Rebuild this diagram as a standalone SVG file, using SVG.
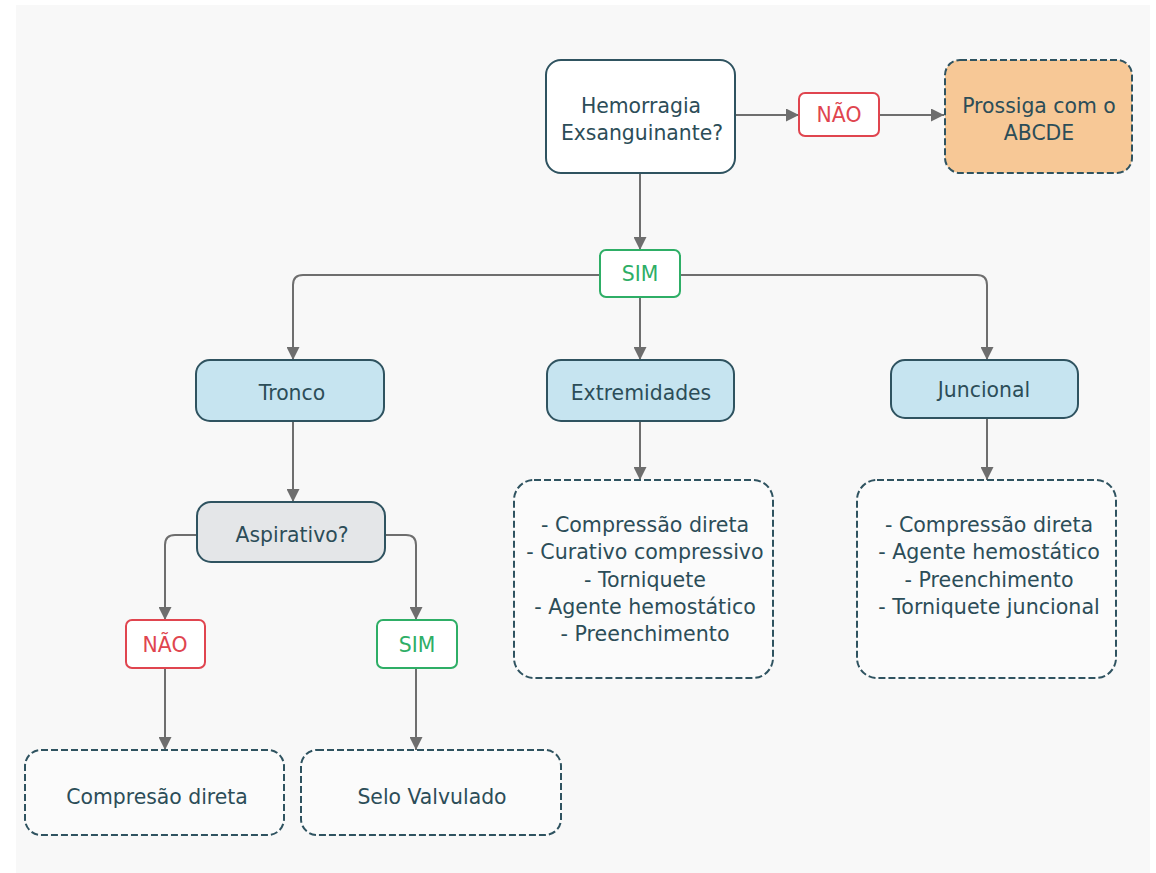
<svg xmlns="http://www.w3.org/2000/svg" width="1156" height="873" viewBox="0 0 1156 873">
<defs>
<marker id="arr" viewBox="0 0 10 10" refX="10" refY="5" markerWidth="13" markerHeight="13" markerUnits="userSpaceOnUse" orient="auto">
<path d="M0,0 L10,5 L0,10 z" fill="#6e6e6e"/>
</marker>
</defs>
<style>
text{font-family:"DejaVu Sans","Liberation Sans",sans-serif;font-size:20.4px;fill:#2c4d58;text-anchor:middle}
text.li{font-size:20.6px}
.solid{fill:#ffffff;stroke:#2f5360;stroke-width:2}
.blue{fill:#c6e4f0;stroke:#2f5360;stroke-width:2}
.gray{fill:#e4e6e8;stroke:#2f5360;stroke-width:2}
.dash{fill:#fbfbfb;stroke:#2f5360;stroke-width:2;stroke-dasharray:7 3}
.orange{fill:#f7c896;stroke:#2f5360;stroke-width:2;stroke-dasharray:7 3}
.no{fill:#ffffff;stroke:#e0454f;stroke-width:2}
.yes{fill:#ffffff;stroke:#2eae66;stroke-width:2}
text.red{fill:#e0454f}
text.green{fill:#2eae66}
.c{fill:none;stroke:#6e6e6e;stroke-width:2;marker-end:url(#arr)}
</style>
<rect x="0" y="0" width="1156" height="873" fill="#ffffff"/>
<rect x="16" y="5" width="1134" height="868" fill="#f8f8f8"/>
<g id="connectors">
<path class="c" d="M735,115 H799"/>
<path class="c" d="M879,115 H944"/>
<path class="c" d="M640,173 V250"/>
<path class="c" d="M600,275 H303 Q293,275 293,285 V360"/>
<path class="c" d="M680,275 H977 Q987,275 987,285 V360"/>
<path class="c" d="M640,297 V360"/>
<path class="c" d="M293,421 V502"/>
<path class="c" d="M197,535 H175 Q165,535 165,545 V620"/>
<path class="c" d="M385,535 H406 Q416,535 416,545 V620"/>
<path class="c" d="M165,668 V750"/>
<path class="c" d="M416,668 V750"/>
<path class="c" d="M640,421 V480"/>
<path class="c" d="M987,418 V480"/>
</g>
<g id="hemorragia">
<rect class="solid" x="546" y="60" width="189" height="113" rx="15"/>
<text x="641" y="113">Hemorragia</text>
<text x="642" y="140">Exsanguinante?</text>
</g>
<g id="nao-top">
<rect class="no" x="799" y="93" width="80" height="43" rx="6"/>
<text class="red" x="839" y="122">NÃO</text>
</g>
<g id="prossiga">
<rect class="orange" x="945" y="60" width="187" height="113" rx="15"/>
<text x="1039" y="113">Prossiga com o</text>
<text x="1039" y="140">ABCDE</text>
</g>
<g id="sim-top">
<rect class="yes" x="600" y="250" width="80" height="47" rx="6"/>
<text class="green" x="640" y="281">SIM</text>
</g>
<g id="tronco">
<rect class="blue" x="196" y="360" width="188" height="61" rx="14"/>
<text x="292" y="400">Tronco</text>
</g>
<g id="extremidades">
<rect class="blue" x="547" y="360" width="187" height="61" rx="14"/>
<text x="641" y="400">Extremidades</text>
</g>
<g id="juncional">
<rect class="blue" x="891" y="360" width="187" height="58" rx="14"/>
<text x="984" y="397">Juncional</text>
</g>
<g id="aspirativo">
<rect class="gray" x="197" y="502" width="188" height="60" rx="14"/>
<text x="292" y="542">Aspirativo?</text>
</g>
<g id="nao-aspirativo">
<rect class="no" x="126" y="620" width="79" height="48" rx="6"/>
<text class="red" x="165" y="652">NÃO</text>
</g>
<g id="sim-aspirativo">
<rect class="yes" x="377" y="620" width="80" height="48" rx="6"/>
<text class="green" x="417" y="652">SIM</text>
</g>
<g id="compressao">
<rect class="dash" x="25" y="750" width="259" height="85" rx="16"/>
<text x="157" y="804">Compresão direta</text>
</g>
<g id="selo">
<rect class="dash" x="301" y="750" width="260" height="85" rx="16"/>
<text x="432" y="804">Selo Valvulado</text>
</g>
<g id="lista-extremidades">
<rect class="dash" x="514" y="480" width="259" height="198" rx="20"/>
<text class="li" x="645" y="532">- Compressão direta</text>
<text class="li" x="645" y="559">- Curativo compressivo</text>
<text class="li" x="645" y="587">- Torniquete</text>
<text class="li" x="645" y="614">- Agente hemostático</text>
<text class="li" x="645" y="641">- Preenchimento</text>
</g>
<g id="lista-juncional">
<rect class="dash" x="857" y="480" width="259" height="198" rx="20"/>
<text class="li" x="989" y="532">- Compressão direta</text>
<text class="li" x="989" y="559">- Agente hemostático</text>
<text class="li" x="989" y="587">- Preenchimento</text>
<text class="li" x="989" y="614">- Torniquete juncional</text>
</g>
</svg>
